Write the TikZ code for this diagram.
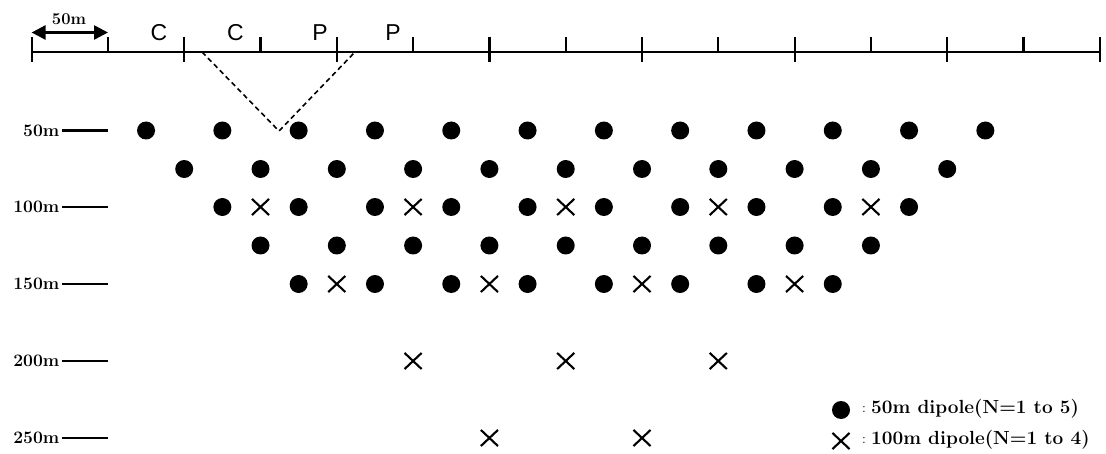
\documentclass[tikz,border=0pt]{standalone}
\usepackage{fontspec}
\newfontfamily\sansf{Liberation Sans}
\usetikzlibrary{shapes.misc,arrows.meta}
\begin{document}
\begin{tikzpicture}[x=1pt,y=-1pt,
  dot/.style={circle,fill=black,inner sep=0pt,minimum size=18pt},
  xmark/.style={cross out,draw=black,line width=2.1pt,inner sep=0pt,minimum width=15pt,minimum height=14pt},
  depthlbl/.style={anchor=east,inner sep=0pt,font=\fontsize{17.5}{17.5}\selectfont\bfseries},
  depthline/.style={line width=2.2pt},
  elec/.style={font=\sansf\fontsize{23}{23}\selectfont,inner sep=0pt},
  axisline/.style={line width=2.6pt},
  tickmark/.style={line width=2.2pt},
  legtext/.style={anchor=west,inner sep=0pt,font=\fontsize{19}{19}\selectfont\bfseries},
  vline/.style={dashed,dash pattern=on 5pt off 3.5pt,line width=1.6pt}]
\useasboundingbox (0,0) rectangle (1106,454);
% surface line and ticks
\foreach \k in {0,...,14}{
  \pgfmathsetmacro\xx{31.6+76.3*\k}
  \coordinate (t\k) at (\xx,52);
  \coordinate (tt\k) at (\xx,37);
  \ifodd\k
    \coordinate (tb\k) at (\xx,52);
  \else
    \coordinate (tb\k) at (\xx,62);
  \fi
  \draw[tickmark] (tt\k) -- (tb\k);
}
\draw[axisline] (t0) -- (t14);
% scale arrow
\coordinate (sa) at (31.6,32.5);
\coordinate (sb) at (108,32.5);
\draw[line width=2.6pt,{Triangle[length=14pt,width=14pt]}-{Triangle[length=14pt,width=14pt]}] (sa) -- (sb);
\node[inner sep=0pt,font=\fontsize{16.5}{16.5}\selectfont\bfseries] (scl) at (69,19) {50m};
% electrode labels
\node[elec] (c1) at (159,33) {C};
\node[elec] (c2) at (235.5,33) {C};
\node[elec] (p1) at (320,33) {P};
\node[elec] (p2) at (393,33) {P};
% dashed V
\coordinate (va) at (202,52);
\coordinate (vb) at (279,131);
\coordinate (vc) at (355,52);
\draw[vline] (va) -- (vb) -- (vc);
% depth labels
\foreach \d/\y in {50/130.5,100/207,150/284,200/361,250/438}{
  \coordinate (dl\d) at (62,\y);
  \coordinate (dr\d) at (108,\y);
  \draw[depthline] (dl\d) -- (dr\d);
  \node[depthlbl] (dt\d) at (59.5,\y) {\d m};
}
% row 1
\foreach \k [count=\n] in {1.5,2.5,...,12.5}{
  \node[dot] (r1d\n) at ({31.6+76.3*\k},130.5) {};
}
% row 2
\foreach \k [count=\n] in {2,...,12}{
  \node[dot] (r2d\n) at ({31.6+76.3*\k},169) {};
}
% row 3
\foreach \k [count=\n] in {2.5,3.5,...,11.5}{
  \node[dot] (r3d\n) at ({31.6+76.3*\k},207) {};
}
\foreach \k [count=\n] in {3,5,7,9,11}{
  \node[xmark] (r3x\n) at ({31.6+76.3*\k},207) {};
}
% row 4
\foreach \k [count=\n] in {3,...,11}{
  \node[dot] (r4d\n) at ({31.6+76.3*\k},245.5) {};
}
% row 5
\foreach \k [count=\n] in {3.5,4.5,...,10.5}{
  \node[dot] (r5d\n) at ({31.6+76.3*\k},284) {};
}
\foreach \k [count=\n] in {4,6,8,10}{
  \node[xmark] (r5x\n) at ({31.6+76.3*\k},284) {};
}
% 200m
\foreach \k [count=\n] in {5,7,9}{
  \node[xmark] (r6x\n) at ({31.6+76.3*\k},361) {};
}
% 250m
\foreach \k [count=\n] in {6,8}{
  \node[xmark] (r7x\n) at ({31.6+76.3*\k},438) {};
}
% legend
\node[dot] (ld) at (841,410) {};
\node[xmark] (lx) at (841,441) {};
\node[inner sep=0pt,font=\fontsize{14}{14}\selectfont] (lc1) at (864,409) {:};
\node[inner sep=0pt,font=\fontsize{14}{14}\selectfont] (lc2) at (864,440) {:};
\node[legtext] (lt1) at (871,409) {50m dipole(N=1 to 5)};
\node[legtext] (lt2) at (871,440) {100m dipole(N=1 to 4)};
\end{tikzpicture}
\end{document}
